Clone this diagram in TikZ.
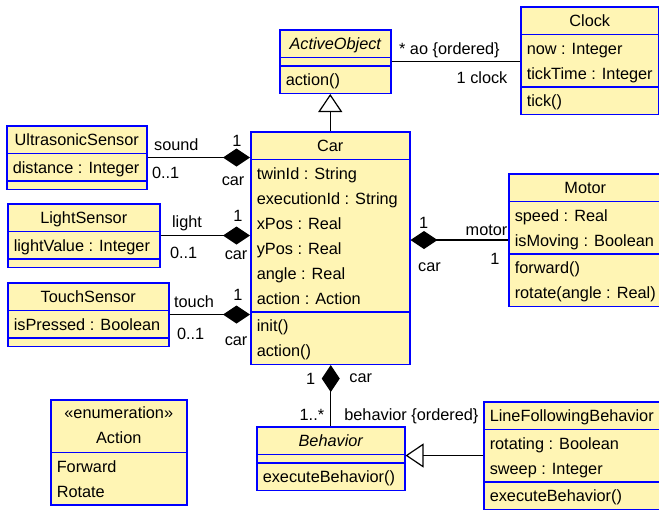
\documentclass[tikz,border=0pt]{standalone}
\usepackage{fontspec}
\setmainfont{Liberation Sans}
\usetikzlibrary{shapes.multipart,arrows.meta}
\definecolor{umlBlue}{RGB}{0,0,255}
\definecolor{umlYellow}{RGB}{255,245,180}
\newcommand{\umlfont}{\fontsize{16.3}{25}\selectfont}
\newcommand{\ustrut}{\rule[-6.2pt]{0pt}{25pt}}

\begin{document}
\begin{tikzpicture}[x=1pt,y=-1pt,
    umlclass/.style={rectangle split, rectangle split parts=3, draw=umlBlue, fill=umlYellow,
      line width=1.5pt, font=\umlfont, align=left, rectangle split part align={center,left,left},
      rectangle split empty part height=6pt, inner xsep=6pt, inner ysep=0.5pt, anchor=north west},
    comp/.style={line width=1.2pt, -{Diamond[length=27pt,width=18pt]}},
    gen/.style={line width=1.2pt, -{Triangle[open,fill=white,length=18pt,width=24pt]}},
    lbl/.style={font=\umlfont, inner sep=0pt}]
  \useasboundingbox (0,0) rectangle (659,512);

  % classes
  \node[umlclass, minimum width=111pt] (ao) at (279,29) {\ustrut{\itshape ActiveObject}
    \nodepart{two}
    \nodepart{three}\ustrut action()};
  \node[umlclass, minimum width=138pt] (clock) at (520,6) {\ustrut Clock
    \nodepart{two}\ustrut now : Integer\\ tickTime : Integer\ustrut
    \nodepart{three}\ustrut tick()};
  \node[umlclass, minimum width=159pt] (car) at (250,131) {\ustrut Car
    \nodepart{two}\ustrut twinId : String\\ executionId : String\\ xPos : Real\\ yPos : Real\\ angle : Real\\ action : Action\ustrut
    \nodepart{three}\ustrut init()\\ action()\ustrut};
  \node[umlclass, minimum width=140pt] (us) at (6,125) {\ustrut UltrasonicSensor
    \nodepart{two}\ustrut distance : Integer};
  \node[umlclass, minimum width=152pt] (light) at (7,203) {\ustrut LightSensor
    \nodepart{two}\ustrut lightValue : Integer};
  \node[umlclass, minimum width=161pt] (touch) at (7,282) {\ustrut TouchSensor
    \nodepart{two}\ustrut isPressed : Boolean};
  \node[umlclass, minimum width=150pt] (motor) at (508,173) {\ustrut Motor
    \nodepart{two}\ustrut speed : Real\\ isMoving : Boolean\ustrut
    \nodepart{three}\ustrut forward()\\ rotate(angle : Real)\ustrut};
  \node[umlclass, minimum width=148pt] (beh) at (256,426) {\ustrut{\itshape Behavior}
    \nodepart{two}
    \nodepart{three}\ustrut executeBehavior()};
  \node[umlclass, minimum width=176pt] (lfb) at (483,401) {\ustrut LineFollowingBehavior
    \nodepart{two}\ustrut rotating : Boolean\\ sweep : Integer\ustrut
    \nodepart{three}\ustrut executeBehavior()};
  \node[umlclass, rectangle split parts=2, rectangle split part align={center,left}, minimum width=136pt] (action) at (50,399)
    {\begin{tabular}{@{}c@{}}«enumeration»\\ Action\end{tabular}
    \nodepart{two}\ustrut Forward\\ Rotate\ustrut};

  % generalizations
  \draw[gen] (car.north) -- (car.north |- ao.south);
  \draw[gen] (lfb.west) -- (lfb.west -| beh.east);

  % associations
  \draw[line width=1.2pt] (ao.east) -- (ao.east -| clock.west)
    node[lbl, pos=0, anchor=base west, xshift=7pt, yshift=7.5pt] {* ao \{ordered\}}
    node[lbl, pos=1, anchor=base east, xshift=-12pt, yshift=-22pt] {1 clock};
  \draw[comp] (us.east) -- (us.east -| car.west)
    node[lbl, pos=0, anchor=base west, xshift=6pt, yshift=7pt] {sound}
    node[lbl, pos=0, anchor=base west, xshift=4pt, yshift=-21pt] {0..1}
    node[lbl, pos=1, anchor=base east, xshift=-8pt, yshift=11pt] {1}
    node[lbl, pos=1, anchor=base east, xshift=-5pt, yshift=-28pt] {car};
  \draw[comp] (light.east) -- (light.east -| car.west)
    node[lbl, pos=0, anchor=base west, xshift=11pt, yshift=8pt] {light}
    node[lbl, pos=0, anchor=base west, xshift=9pt, yshift=-23pt] {0..1}
    node[lbl, pos=1, anchor=base east, xshift=-7pt, yshift=14pt] {1}
    node[lbl, pos=1, anchor=base east, xshift=-2pt, yshift=-24pt] {car};
  \draw[comp] (touch.east) -- (touch.east -| car.west)
    node[lbl, pos=0, anchor=base west, xshift=4pt, yshift=7pt] {touch}
    node[lbl, pos=0, anchor=base west, xshift=7pt, yshift=-25pt] {0..1}
    node[lbl, pos=1, anchor=base east, xshift=-7pt, yshift=14pt] {1}
    node[lbl, pos=1, anchor=base east, xshift=-2pt, yshift=-31pt] {car};
  \draw[comp] (motor.west) -- (motor.west -| car.east)
    node[lbl, pos=0, anchor=base east, xshift=0pt, yshift=5pt] {motor}
    node[lbl, pos=0, anchor=base east, xshift=-8pt, yshift=-24pt] {1}
    node[lbl, pos=1, anchor=base west, xshift=8pt, yshift=12pt] {1}
    node[lbl, pos=1, anchor=base west, xshift=7pt, yshift=-31pt] {car};
  \draw[comp] (beh.north) -- (beh.north |- car.south)
    node[lbl, pos=0, anchor=base east, xshift=-6pt, yshift=6pt] {1..*}
    node[lbl, pos=0, anchor=base west, xshift=13pt, yshift=6pt] {behavior \{ordered\}}
    node[lbl, pos=1, anchor=base east, xshift=-15pt, yshift=-19pt] {1}
    node[lbl, pos=1, anchor=base west, xshift=18pt, yshift=-17pt] {car};
\end{tikzpicture}
\end{document}
